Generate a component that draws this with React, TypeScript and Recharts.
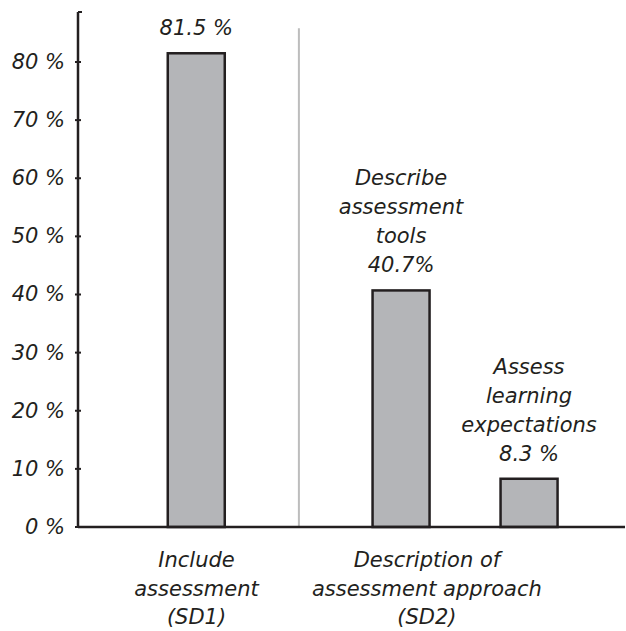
import React from "react";
import { BarChart, Bar, XAxis, YAxis, LabelList, ReferenceLine } from "recharts";

// Bars, their values and the caption lines printed above each bar
const barNames = ["Include assessment", "Describe assessment tools", "Assess learning expectations"];
const barValues = [81.5, 40.7, 8.3];
const barCaptions: string[][] = [[], ["Describe", "assessment", "tools"], ["Assess", "learning", "expectations"]];
const valueGaps = [" ", "", " "];

// Group labels drawn under the category axis
const groupLabels: string[][] = [
  ["Include", "assessment", "(SD1)"],
  ["Description of", "assessment approach", "(SD2)"],
];

const yTicks = [0, 10, 20, 30, 40, 50, 60, 70, 80];
const Y_MAX = 88.6;

// The category axis is a grid of equal slots; bars and group labels sit on some of them
const SLOT_COUNT = 21;
const BAR_SLOTS = [4, 12, 17];
const GROUP_SLOTS = [4, 13];
const DIVIDER_SLOT = 8;

const INK = "#231f20";
const FONT = "'DejaVu Sans', sans-serif";
const FONT_SIZE = 21;
const BAR_WIDTH = 57;
const Y_TICK_MARGIN = 13;

const rows = Array.from({ length: SLOT_COUNT }, (_, i) => {
  const bar = BAR_SLOTS.indexOf(i);
  const group = GROUP_SLOTS.indexOf(i);
  return {
    slot: `s${i}`,
    name: bar >= 0 ? barNames[bar] : "",
    value: bar >= 0 ? barValues[bar] : null,
    bar,
    group,
  };
});

const textStyle = {
  fontFamily: FONT,
  fontStyle: "italic" as const,
  fontSize: FONT_SIZE,
  fill: INK,
};

function YTick(props: any) {
  const { x, y, payload } = props;
  const axisX = x + Y_TICK_MARGIN;
  if (payload.value === Y_MAX) {
    return <line x1={axisX} x2={axisX + 4} y1={y} y2={y} stroke={INK} strokeWidth={2} />;
  }
  return (
    <g>
      <line x1={axisX - 3} x2={axisX + 3} y1={y} y2={y} stroke={INK} strokeWidth={2} />
      <text x={x} y={y} dy={7} textAnchor="end" style={textStyle}>
        {`${payload.value} %`}
      </text>
    </g>
  );
}

function GroupTick(props: any) {
  const { x, y, index } = props;
  const g = rows[index]?.group ?? -1;
  if (g < 0) return <g />;
  return (
    <text x={x} y={y} textAnchor="middle" style={textStyle}>
      {groupLabels[g].map((line, i) => (
        <tspan key={i} x={x} y={y + 40 + i * 28.5}>
          {line}
        </tspan>
      ))}
    </text>
  );
}

function WideBar(props: any) {
  const { x, y, width, height, payload } = props;
  if (payload == null || payload.value == null) return null;
  const cx = x + width / 2;
  return (
    <rect
      x={cx - BAR_WIDTH / 2}
      y={y}
      width={BAR_WIDTH}
      height={height}
      fill="#b4b5b8"
      stroke={INK}
      strokeWidth={2.5}
    />
  );
}

function BarCaption(props: any) {
  const { x, y, width, value } = props;
  const b = barNames.indexOf(value);
  if (b < 0) return null;
  const lines = [...barCaptions[b], `${barValues[b]}${valueGaps[b]}%`];
  const cx = Number(x) + Number(width) / 2;
  const lastBaseline = Number(y) - 18;
  const lh = 29;
  return (
    <text textAnchor="middle" style={textStyle}>
      {lines.map((line, i) => (
        <tspan key={i} x={cx} y={lastBaseline - (lines.length - 1 - i) * lh}>
          {line}
        </tspan>
      ))}
    </text>
  );
}

export default function App() {
  return (
    <div style={{ position: "absolute", left: 0, top: 0, background: "#fff" }}>
      <BarChart
        width={626}
        height={631}
        data={rows}
        margin={{ top: 12, right: 1, bottom: 0, left: 0 }}
      >
        <XAxis
          dataKey="slot"
          type="category"
          interval={0}
          height={104}
          padding={{ left: 3.3, right: 6.1 }}
          axisLine={{ stroke: INK, strokeWidth: 2.5 }}
          tickLine={false}
          tickSize={0}
          tickMargin={0}
          tick={<GroupTick />}
        />
        <YAxis
          type="number"
          domain={[0, Y_MAX]}
          ticks={[...yTicks, Y_MAX]}
          width={78}
          axisLine={{ stroke: INK, strokeWidth: 2.5 }}
          tickLine={false}
          tickSize={0}
          tickMargin={Y_TICK_MARGIN}
          tick={<YTick />}
        />
        <ReferenceLine
          segment={[
            { x: `s${DIVIDER_SLOT}`, y: 0 },
            { x: `s${DIVIDER_SLOT}`, y: 85.8 },
          ]}
          stroke="#bdbdbd"
          strokeWidth={2}
        />
        <Bar dataKey="value" isAnimationActive={false} shape={<WideBar />}>
          <LabelList dataKey="name" content={<BarCaption />} />
        </Bar>
      </BarChart>
    </div>
  );
}
